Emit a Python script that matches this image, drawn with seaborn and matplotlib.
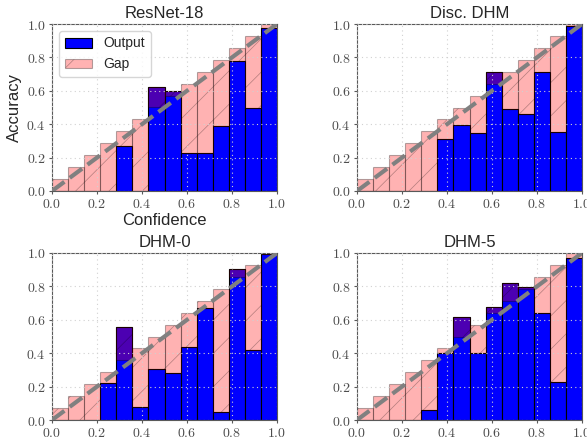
import numpy as np
import pandas as pd
import matplotlib
matplotlib.use("Agg")
import matplotlib.pyplot as plt
import seaborn as sns

n_bins = 14
titles = ["ResNet-18", "Disc. DHM", "DHM-0", "DHM-5"]
acc_resnet = [0, 0, 0, 0, 0.27, 0, 0.62, 0.60, 0.23, 0.225, 0.39, 0.78, 0.50, 0.975]
acc_disc = [0, 0, 0, 0, 0, 0.313, 0.397, 0.349, 0.713, 0.491, 0.461, 0.713, 0.353, 0.99]
acc_dhm0 = [0, 0, 0, 0.219, 0.556, 0.078, 0.303, 0.279, 0.44, 0.669, 0.046, 0.902, 0.418, 0.992]
acc_dhm5 = [0, 0, 0, 0, 0.06, 0.40, 0.618, 0.404, 0.679, 0.819, 0.795, 0.639, 0.229, 0.97]
all_acc = [acc_resnet, acc_disc, acc_dhm0, acc_dhm5]
ticks = [0.0, 0.2, 0.4, 0.6, 0.8, 1.0]

sns.set_style("ticks")
plt.rcParams["font.family"] = ["Liberation Sans", "DejaVu Sans"]
plt.rcParams["mathtext.fontset"] = "cm"
plt.rcParams["hatch.linewidth"] = 0.5

fig = plt.figure(figsize=(5.87, 4.41), dpi=100)
W, H = 587, 441
positions = [(52, 24), (357, 24), (52, 253), (357, 253)]
aw, ah = 225, 167

edges = np.linspace(0, 1, n_bins + 1)
centers = (edges[:-1] + edges[1:]) / 2
uppers = edges[1:]

for k, (title, acc) in enumerate(zip(titles, all_acc)):
    x0, y0 = positions[k]
    ax = fig.add_axes([x0 / W, 1 - (y0 + ah) / H, aw / W, ah / H])
    acc = np.array(acc)
    df = pd.DataFrame({"conf": centers, "acc": acc})
    sns.histplot(data=df, x="conf", weights="acc", bins=n_bins, binrange=(0, 1),
                 color=(0, 0, 1), edgecolor="black", linewidth=0.8, alpha=1.0,
                 ax=ax, label="Output")
    ax.bar(edges[:-1], uppers - acc, bottom=acc, width=1 / n_bins, align="edge",
           color="red", alpha=0.3, edgecolor="black", linewidth=0.8, hatch="/",
           label="Gap")
    ax.plot([0, 1], [0, 1], linestyle="--", color="gray", linewidth=3, zorder=3)
    ax.set_xlim(0, 1)
    ax.set_ylim(0, 1)
    ax.set_xticks(ticks)
    ax.set_yticks(ticks)
    ax.set_xticklabels([f"${t:.1f}$" for t in ticks])
    ax.set_yticklabels([f"${t:.1f}$" for t in ticks])
    ax.tick_params(axis="both", labelsize=10, length=2.5, width=0.8, pad=2,
                   colors="0.35", labelcolor="0.3")
    for sp in ax.spines.values():
        sp.set_color("0.35")
        sp.set_linewidth(0.8)
        sp.set_visible(True)
    ax.set_axisbelow(False)
    ax.grid(True, linestyle=(0, (1, 3)), color="0.82", linewidth=0.8)
    ax.set_title(title, fontsize=12, pad=4)
    if k == 0:
        ax.set_xlabel("Confidence", fontsize=12, labelpad=1)
        ax.set_ylabel("Accuracy", fontsize=12, labelpad=3)
        ax.legend(loc="upper left", fontsize=10, frameon=True)
    else:
        ax.set_xlabel("")
        ax.set_ylabel("")

fig.savefig("out.png", dpi=100)
